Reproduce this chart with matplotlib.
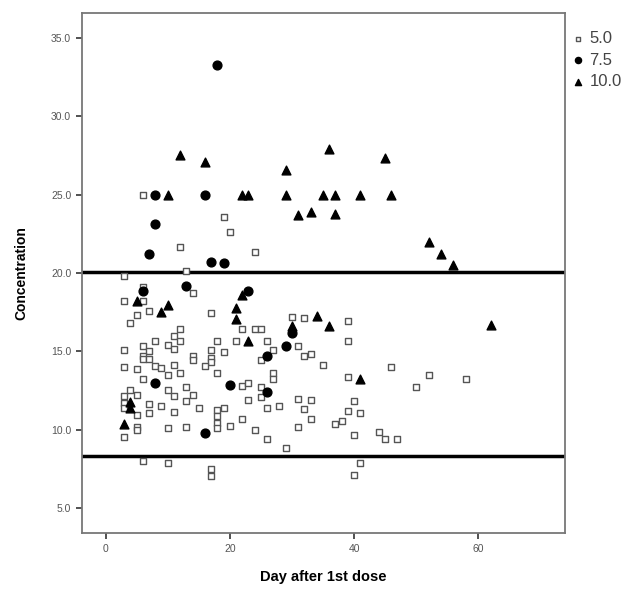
import numpy as np
import matplotlib
matplotlib.use('Agg')
import matplotlib.pyplot as plt
from matplotlib.ticker import FormatStrFormatter

plt.rcParams['font.family'] = ['Liberation Sans', 'DejaVu Sans']

# dose 5.0 (open squares)
day_5 = [6, 19, 20, 12, 24, 13, 3, 6, 14, 3, 6, 7, 5, 4, 17, 30, 32, 39, 22, 24,
         25, 12, 11, 12, 8, 18, 21, 26, 39, 6, 10, 11, 3, 7, 6, 6, 17, 19, 27, 31,
         25, 32, 33, 7, 14, 14, 17, 17, 3, 5, 8, 9, 11, 12, 10, 16, 18, 35, 27, 27,
         46, 52, 58, 50, 39, 6, 4, 3, 3, 3, 5, 5, 5, 5, 3, 7, 7, 9, 10, 11,
         11, 13, 14, 13, 15, 10, 13, 22, 23, 25, 25, 23, 18, 18, 18, 18, 19, 20, 22, 24,
         26, 26, 28, 29, 31, 33, 32, 33, 31, 40, 39, 41, 38, 37, 40, 44, 45, 47,
         6, 10, 17, 17, 40, 41]
conc_5 = [25.0, 23.6, 22.65, 21.65, 21.33, 20.16, 19.84, 19.1, 18.74, 18.25, 18.2, 17.6, 17.3, 16.8, 17.46, 17.18, 17.14, 16.93, 16.44, 16.44,
          16.44, 16.44, 15.97, 15.7, 15.7, 15.65, 15.7, 15.65, 15.7, 15.33, 15.44, 15.15, 15.12, 15.05, 14.7, 14.5, 15.12, 14.95, 15.08, 15.33,
          14.48, 14.74, 14.87, 14.5, 14.74, 14.45, 14.6, 14.3, 14.0, 13.9, 14.1, 13.95, 14.16, 13.6, 13.5, 14.05, 13.65, 14.14, 13.65, 13.25,
          14.0, 13.5, 13.25, 12.74, 13.36, 13.25, 12.55, 12.14, 11.7, 11.4, 12.2, 10.95, 10.2, 10.0, 9.57, 11.65, 11.1, 11.55, 12.55, 12.17,
          11.15, 12.75, 12.25, 11.85, 11.37, 10.1, 10.2, 12.8, 12.97, 12.75, 12.07, 11.93, 11.25, 10.85, 10.45, 10.1, 11.4, 10.25, 10.7, 9.96,
          11.4, 9.44, 11.52, 8.87, 11.95, 11.9, 11.33, 10.7, 10.15, 11.87, 11.2, 11.06, 10.55, 10.34, 9.68, 9.85, 9.43, 9.43,
          8.0, 7.85, 7.47, 7.08, 7.1, 7.85]

# dose 7.5 (filled circles)
day_75 = [18, 8, 16, 8, 7, 17, 19, 6, 13, 23, 30, 29, 26, 8, 20, 26, 16]
conc_75 = [33.3, 25.0, 25.0, 23.15, 21.2, 20.7, 20.62, 18.85, 19.2, 18.84, 16.2, 15.32, 14.72, 13.0, 12.83, 12.43, 9.78]

# dose 10.0 (filled triangles)
day_10 = [12, 16, 29, 36, 45, 10, 22, 23, 29, 35, 37, 41, 46, 31, 33, 37, 52, 54, 56,
          22, 5, 10, 9, 21, 21, 34, 36, 30, 62, 23, 41, 4, 4, 3]
conc_10 = [27.55, 27.07, 26.58, 27.92, 27.37, 25.0, 25.0, 25.0, 25.0, 25.0, 25.0, 25.0, 25.0, 23.7, 23.9, 23.77, 21.96, 21.25, 20.54,
           18.6, 18.2, 17.95, 17.5, 17.75, 17.05, 17.27, 16.6, 16.6, 16.67, 15.7, 13.25, 11.75, 11.4, 10.4]

upper_limit = 20.1
lower_limit = 8.3

fig = plt.figure(figsize=(6.43, 5.92), dpi=100)
ax = fig.add_axes([0.127, 0.0993, 0.752, 0.8794])

ax.scatter(day_5, conc_5, marker='s', s=24, facecolors='white', edgecolors='#555555',
           linewidths=1.0, label='5.0', zorder=3)
ax.scatter(day_75, conc_75, marker='o', s=40, color='black', label='7.5', zorder=4)
ax.scatter(day_10, conc_10, marker='^', s=40, color='black', label='10.0', zorder=4)

ax.axhline(upper_limit, color='black', lw=2.5, zorder=2)
ax.axhline(lower_limit, color='black', lw=2.5, zorder=2)

ax.set_xlim(-3.85, 74)
ax.set_ylim(3.4, 36.63)
ax.set_xticks([0, 20, 40, 60])
ax.set_yticks([5, 10, 15, 20, 25, 30, 35])
ax.yaxis.set_major_formatter(FormatStrFormatter('%.1f'))
ax.tick_params(axis='both', direction='out', length=4, width=1.2, color='#333333',
               labelsize=7.5, labelcolor='#555555')

for sp in ax.spines.values():
    sp.set_color('#777777')
    sp.set_linewidth(1.3)

ax.set_xlabel('Day after 1st dose', fontsize=10.5, fontweight='bold', labelpad=12)
ax.set_ylabel('Concentration', fontsize=10, fontweight='bold', labelpad=16)

leg = ax.legend(loc='upper left', bbox_to_anchor=(0.985, 0.99), frameon=False,
                fontsize=12, handlelength=0.8, handletextpad=0.3, labelspacing=0.4,
                borderaxespad=0.4, markerscale=0.7)
for t in leg.get_texts():
    t.set_color('#444444')

fig.savefig('out.png', dpi=100)
